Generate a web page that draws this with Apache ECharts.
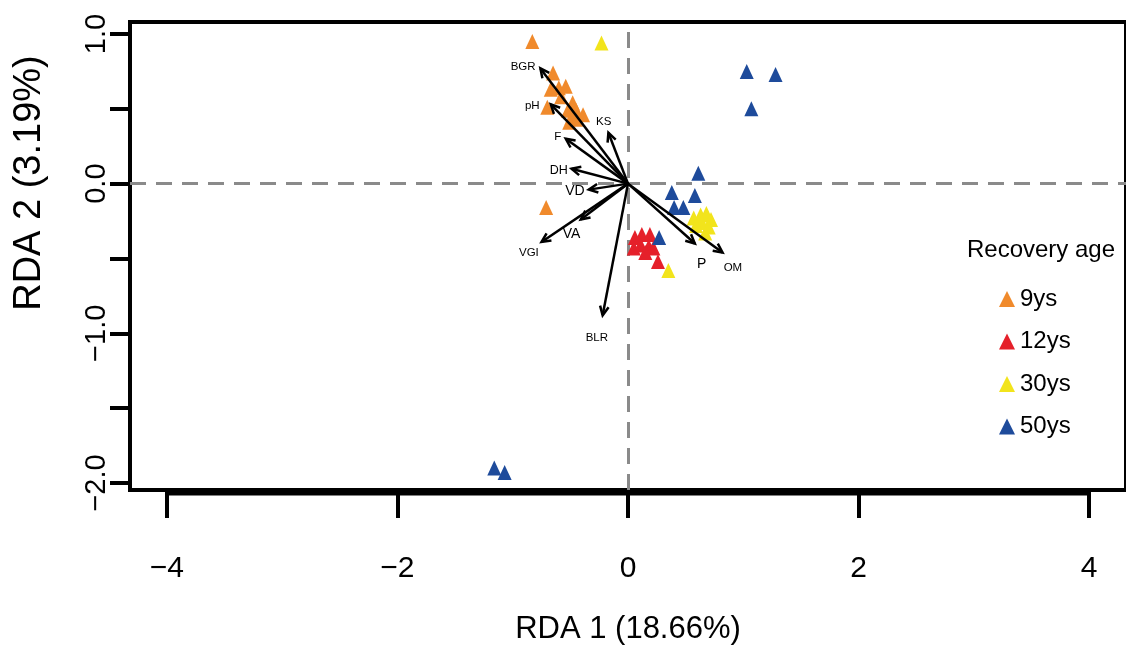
<!DOCTYPE html>
<html>
<head>
<meta charset="utf-8">
<title>RDA biplot</title>
<script src="https://cdn.jsdelivr.net/npm/echarts@6/dist/echarts.min.js"></script>
<style>
  html, body { margin: 0; padding: 0; background: #fff; }
  #main { width: 1126px; height: 661px; }
</style>
</head>
<body>
<div id="main"></div>
<script>
// site scores (RDA1, RDA2) per recovery age
const age9 = [
  [-0.83, 0.95], [-0.65, 0.74], [-0.67, 0.63], [-0.60, 0.64], [-0.54, 0.65],
  [-0.58, 0.58], [-0.70, 0.51], [-0.48, 0.54], [-0.52, 0.49], [-0.45, 0.49],
  [-0.39, 0.46], [-0.49, 0.44], [-0.45, 0.43], [-0.51, 0.41], [-0.71, -0.16]
];
const age12 = [
  [0.06, -0.36], [0.12, -0.34], [0.19, -0.34], [0.05, -0.43], [0.11, -0.41],
  [0.18, -0.42], [0.22, -0.43], [0.15, -0.46], [0.26, -0.52]
];
const age30 = [
  [-0.23, 0.94], [0.57, -0.23], [0.63, -0.21], [0.68, -0.20], [0.72, -0.24],
  [0.64, -0.26], [0.70, -0.29], [0.59, -0.28], [0.67, -0.33], [0.35, -0.58]
];
const age50 = [
  [1.03, 0.75], [1.28, 0.73], [1.07, 0.50], [0.61, 0.07], [0.38, -0.06],
  [0.58, -0.08], [0.40, -0.16], [0.48, -0.16], [0.27, -0.36],
  [-1.16, -1.90], [-1.07, -1.93]
];

// environmental vectors: names, arrow tips, label positions (RDA units)
const envNames = ['BGR', 'pH', 'KS', 'F', 'DH', 'VD', 'VA', 'VGI', 'BLR', 'P', 'OM'];
const envTips = [
  [-0.76, 0.77], [-0.67, 0.53], [-0.17, 0.34], [-0.54, 0.30], [-0.49, 0.10],
  [-0.34, -0.04], [-0.41, -0.24], [-0.75, -0.39], [-0.22, -0.88], [0.58, -0.40], [0.82, -0.46]
];
const envLabels = [
  [-0.91, 0.78], [-0.83, 0.52], [-0.21, 0.41], [-0.61, 0.31], [-0.60, 0.09],
  [-0.46, -0.05], [-0.49, -0.34], [-0.86, -0.46], [-0.27, -1.03], [0.64, -0.54], [0.91, -0.56]
];

const groupNames = ['9ys', '12ys', '30ys', '50ys'];
const groupColors = ['#F08A2C', '#E5202A', '#F2E41C', '#1E4B9B'];
const xTicks = [-4, -2, 0, 2, 4];
const yTicks = [-2, -1.5, -1, -0.5, 0, 0.5, 1];
const yTickLabels = [-2, -1, 0, 1];

const xMin = -4.32, xMax = 4.32, yMin = -2.047, yMax = 1.08;
const sans = "'Liberation Sans', Arial, sans-serif";
const bigLabel = { VD: 14, VA: 14, P: 14, DH: 12.5 };

function minus(s) { return String(s).replace('-', '\u2212'); }

function renderArrow(params, api) {
  const o = api.coord([0, 0]);
  const t = api.coord([api.value(0), api.value(1)]);
  const ang = Math.atan2(t[1] - o[1], t[0] - o[0]);
  const h = 10, a = Math.PI / 7;
  const p1 = [t[0] - h * Math.cos(ang - a), t[1] - h * Math.sin(ang - a)];
  const p2 = [t[0] - h * Math.cos(ang + a), t[1] - h * Math.sin(ang + a)];
  return {
    type: 'group',
    children: [
      { type: 'line', shape: { x1: o[0], y1: o[1], x2: t[0], y2: t[1] },
        style: { stroke: '#000', lineWidth: 2.5 } },
      { type: 'polyline', shape: { points: [p1, t, p2] },
        style: { stroke: '#000', lineWidth: 2.5, fill: null } }
    ]
  };
}

function renderEnvLabel(params, api) {
  const p = api.coord([api.value(0), api.value(1)]);
  const name = envNames[params.dataIndex];
  return {
    type: 'text',
    x: p[0], y: p[1],
    style: {
      text: name, fill: '#000',
      font: (bigLabel[name] || 11.5) + 'px ' + sans,
      align: 'center', verticalAlign: 'middle'
    }
  };
}

const groups = [age9, age12, age30, age50];
const scatterSeries = groups.map(function (d, i) {
  return {
    name: groupNames[i],
    type: 'scatter',
    data: d,
    symbol: 'triangle',
    symbolSize: [14, 15],
    itemStyle: { color: groupColors[i], opacity: 1 },
    z: 3
  };
});

scatterSeries[0].markLine = {
  silent: true,
  symbol: ['none', 'none'],
  label: { show: false },
  lineStyle: { color: '#8a8a8a', type: [16, 10], width: 3 },
  data: [{ xAxis: 0 }, { yAxis: 0 }],
  z: 1
};

const chart = echarts.init(document.getElementById('main'));
chart.setOption({
  animation: false,
  backgroundColor: '#fff',
  grid: {
    left: 130, top: 22, width: 999, height: 468,
    show: true, borderColor: '#000', borderWidth: 4
  },
  xAxis: {
    type: 'value', min: xMin, max: xMax,
    splitLine: { show: false },
    axisLine: { show: false, onZero: false },
    axisTick: { show: true, customValues: xTicks, length: 28,
      lineStyle: { color: '#000', width: 4 } },
    axisLabel: { customValues: xTicks, formatter: minus, margin: 64,
      fontSize: 30, fontFamily: sans, color: '#000' },
    name: 'RDA 1 (18.66%)', nameLocation: 'middle', nameGap: 124,
    nameTextStyle: { fontSize: 31, fontFamily: sans, color: '#000' }
  },
  yAxis: {
    type: 'value', min: yMin, max: yMax,
    splitLine: { show: false },
    axisLine: { show: false, onZero: false },
    axisTick: { show: true, customValues: yTicks, length: 20,
      lineStyle: { color: '#000', width: 4 } },
    axisLabel: { customValues: yTickLabels, rotate: 90, margin: 19,
      formatter: function (v) { return minus(v.toFixed(1)); },
      fontSize: 29, fontFamily: sans, color: '#000' }
  },
  legend: {
    data: groupNames,
    orient: 'vertical',
    left: 994, top: 281,
    icon: 'triangle',
    itemWidth: 16, itemHeight: 16, itemGap: 16.5,
    textStyle: { fontSize: 24, fontFamily: sans, color: '#000', lineHeight: 26 }
  },
  graphic: [
    { type: 'text', x: 1041, y: 250,
      style: { text: 'Recovery age', font: '24px ' + sans, fill: '#000',
        align: 'center', verticalAlign: 'middle' } },
    { type: 'text', x: 30, y: 183, rotation: Math.PI / 2,
      style: { text: 'RDA 2 (3.19%)', font: '38px ' + sans, fill: '#000',
        align: 'center', verticalAlign: 'middle' } }
  ],
  series: scatterSeries.concat([
    {
      name: 'axis', type: 'line', silent: true, clip: false,
      data: [[xTicks[0], yMin - 0.02], [xTicks[xTicks.length - 1], yMin - 0.02]],
      symbol: 'none', lineStyle: { color: '#000', width: 5 }, z: 4
    },
    {
      name: 'vectors', type: 'custom', renderItem: renderArrow,
      data: envTips, silent: true, z: 5
    },
    {
      name: 'vectorLabels', type: 'custom', renderItem: renderEnvLabel,
      data: envLabels, silent: true, z: 6
    }
  ])
});
</script>
</body>
</html>
